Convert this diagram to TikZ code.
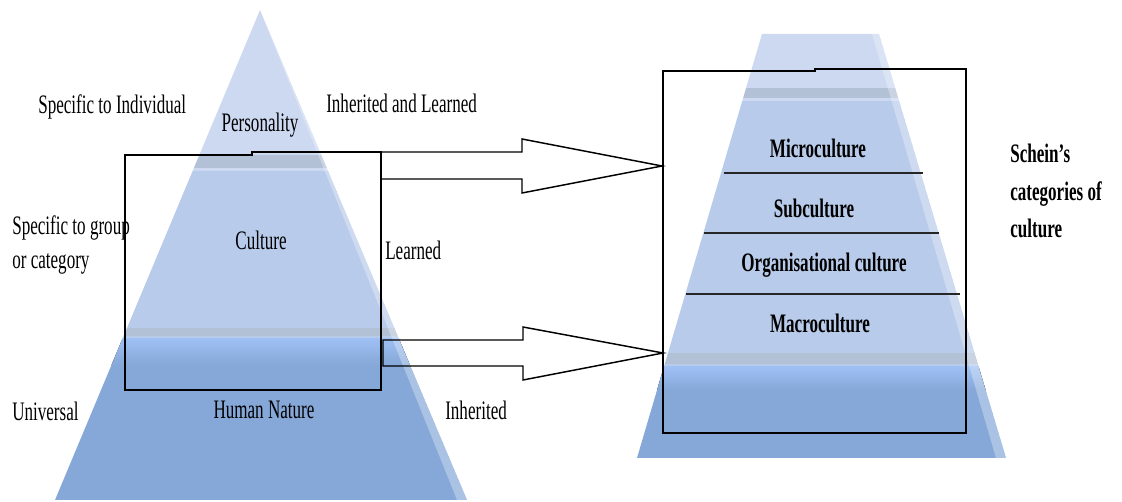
\documentclass[tikz,border=0pt]{standalone}
\usepackage{fontspec}
\setmainfont{Liberation Serif}[FakeStretch=0.64]
\definecolor{pers}{HTML}{CCD9F1}
\definecolor{bandg}{HTML}{B3C1D6}
\definecolor{cult}{HTML}{B8CBEA}
\definecolor{hntop}{HTML}{9DBFF3}
\definecolor{hn}{HTML}{86A8D8}
\begin{document}
\begin{tikzpicture}[x=0.75pt,y=-0.75pt,
  lbl/.style={font=\fontsize{20}{25.5}\selectfont, inner sep=0pt, text=black},
  blbl/.style={lbl, font=\bfseries\fontsize{20}{28}\selectfont},
  frame/.style={draw=black, line width=1pt},
  divider/.style={draw=black!85, line width=1.3pt},
  blockarrow/.style={draw=black, line width=1.1pt, line join=miter}]

\useasboundingbox (0,0) rectangle (1122,502);

% ---------- left pyramid ----------
\coordinate (LA) at (260,10);
\coordinate (LL) at (55,500);
\coordinate (LR) at (467,500);
\begin{scope}
  \clip (LA)--(LR)--(LL)--cycle;
  \fill[pers] (0,0) rectangle (520,155);
  \fill[bandg] (0,155) rectangle (520,168);
  \fill[pers] (0,168) rectangle (520,171);
  \fill[cult] (0,171) rectangle (520,328);
  \fill[bandg] (0,328) rectangle (520,336);
  \fill[cult] (0,336) rectangle (520,339);
  \fill[top color=hntop, bottom color=hn] (0,339) rectangle (520,365);
  \fill[hn] (0,365) rectangle (520,500);
  \fill[white,opacity=0.3] (LA)--(LR)--(457,500)--cycle;
\end{scope}

% ---------- right trapezoid ----------
\coordinate (RTL) at (762,34);
\coordinate (RTR) at (879,34);
\coordinate (RBR) at (1006,458);
\coordinate (RBL) at (637,458);
\begin{scope}
  \clip (RTL)--(RTR)--(RBR)--(RBL)--cycle;
  \fill[pers] (600,0) rectangle (1050,88);
  \fill[bandg] (600,88) rectangle (1050,98);
  \fill[pers] (600,98) rectangle (1050,101);
  \fill[cult] (600,101) rectangle (1050,353);
  \fill[bandg] (600,353) rectangle (1050,364);
  \fill[cult] (600,364) rectangle (1050,367);
  \fill[top color=hntop, bottom color=hn] (600,367) rectangle (1050,390);
  \fill[hn] (600,390) rectangle (1050,458);
  \fill[white,opacity=0.3] (RTR)--(RBR)--(996,458)--(872,34)--cycle;
\end{scope}

% dividing lines in the right trapezoid
\coordinate (d1l) at (724,173); \coordinate (d1r) at (923,173);
\coordinate (d2l) at (704,233); \coordinate (d2r) at (939,233);
\coordinate (d3l) at (686,294); \coordinate (d3r) at (960,294);
\draw[divider] (d1l) -- (d1r);
\draw[divider] (d2l) -- (d2r);
\draw[divider] (d3l) -- (d3r);

% ---------- frames ----------
\coordinate (B1a) at (125,155);
\coordinate (B1b) at (252,155);
\coordinate (B1c) at (252,152);
\coordinate (B1d) at (381,152);
\coordinate (B1e) at (381,390);
\coordinate (B1f) at (125,390);
\draw[frame] (B1a) -- (B1b) -- (B1c) -- (B1d) -- (B1e) -- (B1f) -- cycle;

\coordinate (B2a) at (663,71);
\coordinate (B2b) at (815,71);
\coordinate (B2c) at (815,69);
\coordinate (B2d) at (966,69);
\coordinate (B2e) at (966,433);
\coordinate (B2f) at (663,433);
\draw[frame] (B2a) -- (B2b) -- (B2c) -- (B2d) -- (B2e) -- (B2f) -- cycle;

% ---------- block arrows ----------
\coordinate (u1) at (381,152);
\coordinate (u2) at (522,152);
\coordinate (u3) at (522,139);
\coordinate (u4) at (662,166);
\coordinate (u5) at (522,193);
\coordinate (u6) at (522,179);
\coordinate (u7) at (381,179);
\draw[blockarrow] (u1) -- (u2) -- (u3) -- (u4) -- (u5) -- (u6) -- (u7);

\coordinate (l1) at (383,340);
\coordinate (l2) at (523,340);
\coordinate (l3) at (523,327);
\coordinate (l4) at (663,353);
\coordinate (l5) at (523,380);
\coordinate (l6) at (523,366);
\coordinate (l7) at (383,366);
\draw[blockarrow] (l1) -- (l2) -- (l3) -- (l4) -- (l5) -- (l6) -- (l7) -- cycle;

% ---------- labels ----------
\node[lbl, anchor=west] (indiv) at (38,107) {Specific to Individual};
\node[lbl] (pers) at (260,125) {Personality};
\node[lbl, anchor=west] (inhlearn) at (326,103) {Inherited and Learned};
\node[lbl, anchor=west, align=left] (group) at (12,245) {Specific to group\\or category};
\node[lbl] (cult) at (261,240) {Culture};
\node[lbl, anchor=west] (learned) at (385,250) {Learned};
\node[lbl, anchor=west] (univ) at (12,411) {Universal};
\node[lbl] (human) at (264,410) {Human Nature};
\node[lbl, anchor=west] (inh) at (445,410) {Inherited};

\node[blbl] (micro) at (818,148) {Microculture};
\node[blbl] (sub) at (814,208) {Subculture};
\node[blbl] (org) at (824,265) {Organisational culture};
\node[blbl] (macro) at (820,323) {Macroculture};
\node[blbl, anchor=west, align=left] (schein) at (1010,191) {Schein’s\\categories of\\culture};
\end{tikzpicture}
\end{document}
